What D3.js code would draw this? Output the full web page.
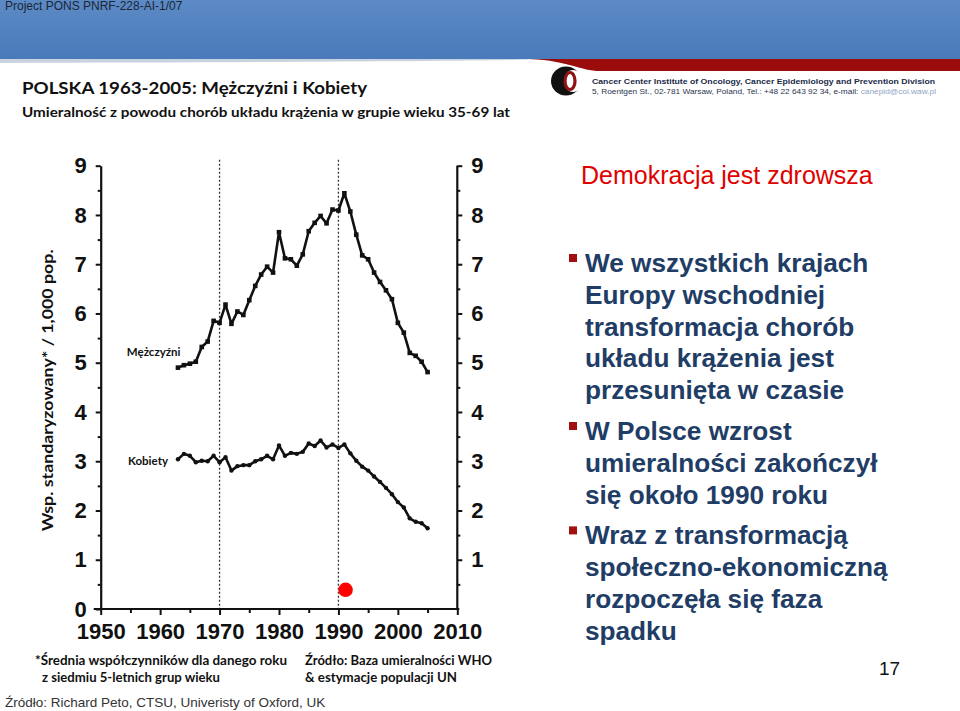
<!DOCTYPE html>
<html><head><meta charset="utf-8">
<script src="https://cdn.jsdelivr.net/npm/d3@7"></script>
<style>
html,body{margin:0;padding:0;background:#fff;}
svg{display:block;}
</style></head>
<body>
<svg id="c" width="960" height="711"></svg>
<script>
// ---------- DATA ----------
const years = [1963,1964,1965,1966,1967,1968,1969,1970,1971,1972,1973,1974,1975,1976,1977,1978,1979,1980,1981,1982,1983,1984,1985,1986,1987,1988,1989,1990,1991,1992,1993,1994,1995,1996,1997,1998,1999,2000,2001,2002,2003,2004,2005];
const men = [4.90,4.95,4.98,5.02,5.32,5.43,5.85,5.81,6.18,5.79,6.04,5.97,6.27,6.56,6.79,6.95,6.83,7.65,7.12,7.10,6.97,7.20,7.67,7.84,7.98,7.83,8.11,8.09,8.44,8.07,7.60,7.18,7.10,6.83,6.64,6.47,6.29,5.81,5.61,5.20,5.14,5.02,4.81];
const women = [3.04,3.15,3.11,2.98,3.01,3.00,3.11,2.98,3.08,2.81,2.90,2.92,2.92,3.00,3.04,3.11,3.04,3.32,3.11,3.17,3.15,3.19,3.36,3.31,3.42,3.28,3.34,3.27,3.34,3.16,3.01,2.89,2.81,2.69,2.58,2.46,2.33,2.17,2.06,1.84,1.77,1.74,1.64];
const xTicks = [1950,1960,1970,1980,1990,2000,2010];
const xMinorTicks = [1955,1965,1975,1985,1995,2005];
const yTicks = [0,1,2,3,4,5,6,7,8,9];
const yMinorTicks = [0.5,1.5,2.5,3.5,4.5,5.5,6.5,7.5,8.5];
const refYears = [1970,1990];
const redDot = [{year:1991.2, value:0.39}];
const seriesLabels = [{text:"Mężczyźni", year:1954.4, value:5.22},{text:"Kobiety", year:1954.6, value:3.0}];
const headerText = "Project PONS PNRF-228-AI-1/07";
const chartTitle = "POLSKA 1963-2005:  Mężczyźni i Kobiety";
const chartSubtitle = "Umieralność z powodu chorób układu krążenia w grupie wieku 35-69 lat";
const yTitle = "Wsp. standaryzowany* / 1,000 pop.";
const logoLine1 = "Cancer Center Institute of Oncology, Cancer Epidemiology and Prevention Division";
const logoLine2 = "5, Roentgen St., 02-781 Warsaw, Poland, Tel.: +48 22 643 92 34, e-mail: ";
const logoMail = "canepid@coi.waw.pl";
const slideTitle = "Demokracja jest zdrowsza";
const bullets = [
  ["We wszystkich krajach","Europy wschodniej","transformacja chorób","układu krążenia jest","przesunięta w czasie"],
  ["W Polsce wzrost","umieralności zakończył","się około 1990 roku"],
  ["Wraz z transformacją","społeczno-ekonomiczną","rozpoczęła się faza","spadku"]
];
const footLeft = ["*Średnia współczynników dla danego roku","z siedmiu 5-letnich grup wieku"];
const footRight = ["Źródło: Baza umieralności WHO","& estymacje populacji UN"];
const sourceText = "Źródło: Richard Peto, CTSU, Univeristy of Oxford, UK";
const pageNumber = "17";

// ---------- DRAW ----------
const svg = d3.select("#c");
const cal = "Lato, 'Open Sans', sans-serif";
const arial = "'Liberation Sans', Arial, sans-serif";
const narrow = "'Liberation Sans Narrow', 'Liberation Sans', Arial, sans-serif";

// header band
const defs = svg.append("defs");
const g1 = defs.append("linearGradient").attr("id","blueG").attr("x1",0).attr("y1",0).attr("x2",0).attr("y2",1);
g1.append("stop").attr("offset","0%").attr("stop-color","#5b8ac6");
g1.append("stop").attr("offset","100%").attr("stop-color","#4b7aba");
svg.append("rect").attr("x",0).attr("y",0).attr("width",960).attr("height",59).attr("fill","url(#blueG)");
svg.append("text").attr("x",5).attr("y",10).attr("font-family",narrow).attr("font-size",12)
  .attr("fill","#1d2733").text(headerText);
// swoosh below band
svg.append("path").attr("d","M0,59 L540,59 C520,61 300,62 0,63 Z").attr("fill","#c9d3df");
svg.append("path").attr("d","M530,59 L960,59 L960,71 L600,71 C580,71 570,61 530,59 Z").attr("fill","#9b0d0d");

// logo
const lg = svg.append("g");
lg.append("ellipse").attr("cx",566).attr("cy",81).attr("rx",15).attr("ry",14.5).attr("fill","#111");
lg.append("ellipse").attr("cx",573).attr("cy",81).attr("rx",9).attr("ry",11).attr("fill","#fff");
lg.append("rect").attr("x",573).attr("y",72).attr("width",12).attr("height",18).attr("fill","#fff");
lg.append("ellipse").attr("cx",570).attr("cy",81).attr("rx",5).attr("ry",8.5).attr("fill","none").attr("stroke","#8e1414").attr("stroke-width",3.2);
svg.append("text").attr("x",592).attr("y",84).attr("font-family",arial).attr("font-weight","bold")
  .attr("font-size",7.4).attr("fill","#1c2b4a").attr("textLength",343).attr("lengthAdjust","spacingAndGlyphs").text(logoLine1);
const l2 = svg.append("text").attr("x",592).attr("y",94).attr("font-family",arial)
  .attr("font-size",7.6).attr("fill","#2a3550").attr("textLength",344).attr("lengthAdjust","spacingAndGlyphs");
l2.append("tspan").text(logoLine2);
l2.append("tspan").attr("fill","#8ea3c2").text(logoMail);

// chart titles
svg.append("text").attr("x",22).attr("y",94).attr("font-family",cal).attr("font-weight","bold")
  .attr("font-size",17.5).attr("fill","#111").attr("textLength",345).attr("lengthAdjust","spacingAndGlyphs").text(chartTitle);
svg.append("text").attr("x",22).attr("y",117).attr("font-family",cal).attr("font-weight","bold")
  .attr("font-size",14).attr("fill","#111").attr("textLength",488).attr("lengthAdjust","spacingAndGlyphs").text(chartSubtitle);

// scales
const x = d3.scaleLinear().domain([1950,2010]).range([100.7,457.3]);
const y = d3.scaleLinear().domain([0,9]).range([609,165.7]);

// reference dotted lines
svg.append("g").selectAll("line").data(refYears).join("line")
  .attr("x1",d=>x(d)).attr("x2",d=>x(d)).attr("y1",y(9)-6).attr("y2",y(0))
  .attr("stroke","#333").attr("stroke-width",1.3).attr("stroke-dasharray","2,2");

function styleAxis(g){
  g.select(".domain").attr("stroke","#111").attr("stroke-width",2.2);
  g.selectAll(".tick line").attr("stroke","#111").attr("stroke-width",2);
  g.selectAll("text").attr("font-family",narrow).attr("font-weight","bold").attr("font-size",22).attr("fill","#111");
}
// left axis
const la = svg.append("g").attr("transform",`translate(${x(1950)},0)`)
  .call(d3.axisLeft(y).tickValues(yTicks).tickSize(5).tickSizeOuter(0).tickPadding(9).tickFormat(d3.format("d")));
styleAxis(la);
const lam = svg.append("g").attr("transform",`translate(${x(1950)},0)`)
  .call(d3.axisLeft(y).tickValues(yMinorTicks).tickSize(3).tickFormat(""));
lam.select(".domain").remove(); lam.selectAll(".tick line").attr("stroke","#111").attr("stroke-width",2);
// right axis
const ra = svg.append("g").attr("transform",`translate(${x(2010)},0)`)
  .call(d3.axisRight(y).tickValues(yTicks.slice(1)).tickSize(5).tickSizeOuter(0).tickPadding(9).tickFormat(d3.format("d")));
styleAxis(ra);
ra.select(".domain").attr("d",`M0,${y(0)}V${y(9)}`);
const ram = svg.append("g").attr("transform",`translate(${x(2010)},0)`)
  .call(d3.axisRight(y).tickValues(yMinorTicks).tickSize(3).tickFormat(""));
ram.select(".domain").remove(); ram.selectAll(".tick line").attr("stroke","#111").attr("stroke-width",2);
// bottom axis
const ba = svg.append("g").attr("transform",`translate(0,${y(0)})`)
  .call(d3.axisBottom(x).tickValues(xTicks).tickSize(6).tickSizeOuter(0).tickPadding(8).tickFormat(d3.format("d")));
styleAxis(ba);
ba.select(".domain").attr("d",`M${x(1950)-7},0H${x(2010)+2}`);
const bam = svg.append("g").attr("transform",`translate(0,${y(0)})`)
  .call(d3.axisBottom(x).tickValues(xMinorTicks).tickSize(4).tickFormat(""));
bam.select(".domain").remove(); bam.selectAll(".tick line").attr("stroke","#111").attr("stroke-width",2);

// y title
svg.append("text").attr("transform",`translate(53,${(y(0)+y(9))/2+3}) rotate(-90)`).attr("text-anchor","middle")
  .attr("font-family",cal).attr("font-weight","bold").attr("font-size",15).attr("fill","#111")
  .attr("textLength",282).attr("lengthAdjust","spacingAndGlyphs").text(yTitle);

// lines
const lineGen = d3.line().x((d,i)=>x(years[i])).y(d=>y(d));
svg.append("path").datum(men).attr("d",lineGen).attr("fill","none").attr("stroke","#111").attr("stroke-width",2.6).attr("stroke-linejoin","round");
svg.append("path").datum(women).attr("d",lineGen).attr("fill","none").attr("stroke","#111").attr("stroke-width",2.6).attr("stroke-linejoin","round");
svg.append("g").selectAll("rect").data(men).join("rect")
  .attr("x",(d,i)=>x(years[i])-2.3).attr("y",d=>y(d)-2.3).attr("width",4.6).attr("height",4.6).attr("fill","#111");
svg.append("g").selectAll("circle").data(women).join("circle")
  .attr("cx",(d,i)=>x(years[i])).attr("cy",d=>y(d)).attr("r",2.2).attr("fill","#111");

// series labels
svg.append("g").selectAll("text").data(seriesLabels).join("text")
  .attr("x",d=>x(d.year)).attr("y",d=>y(d.value)+4).attr("font-family",cal).attr("font-weight","bold")
  .attr("font-size",11.5).attr("fill","#111").text(d=>d.text);

// red dot
svg.append("g").selectAll("circle").data(redDot).join("circle")
  .attr("cx",d=>x(d.year)).attr("cy",d=>y(d.value)).attr("r",7.3).attr("fill","#ff0000");

// footnotes
const footLeftX = [35,42], footLeftW = [252,178];
svg.append("g").selectAll("text").data(footLeft).join("text")
  .attr("x",(d,i)=>footLeftX[i]).attr("y",(d,i)=>665+i*17).attr("font-family",cal).attr("font-weight","bold").attr("font-size",13.5)
  .attr("fill","#111").attr("textLength",(d,i)=>footLeftW[i]).attr("lengthAdjust","spacingAndGlyphs").text(d=>d);
const footRightW = [187,152];
svg.append("g").selectAll("text").data(footRight).join("text")
  .attr("x",305).attr("y",(d,i)=>665+i*17).attr("font-family",cal).attr("font-weight","bold").attr("font-size",13.5)
  .attr("fill","#111").attr("textLength",(d,i)=>footRightW[i]).attr("lengthAdjust","spacingAndGlyphs").text(d=>d);
svg.append("text").attr("x",5).attr("y",707).attr("font-family",arial).attr("font-size",13.5)
  .attr("fill","#333").text(sourceText);

// right text
svg.append("text").attr("x",581).attr("y",184).attr("font-family",arial).attr("font-size",25)
  .attr("fill","#e00000").text(slideTitle);
let ly = 272;
const lh = 31.8;
bullets.forEach((grp,gi)=>{
  svg.append("rect").attr("x",569).attr("y",ly-18).attr("width",8).attr("height",8).attr("fill","#a01010");
  grp.forEach((line)=>{
    svg.append("text").attr("x",585).attr("y",ly).attr("font-family",arial).attr("font-weight","bold")
      .attr("font-size",26.2).attr("fill","#213d66").text(line);
    ly += lh;
  });
  ly += 9;
});
svg.append("text").attr("x",879).attr("y",675).attr("font-family",arial).attr("font-size",19)
  .attr("fill","#111").text(pageNumber);
</script>
</body></html>
